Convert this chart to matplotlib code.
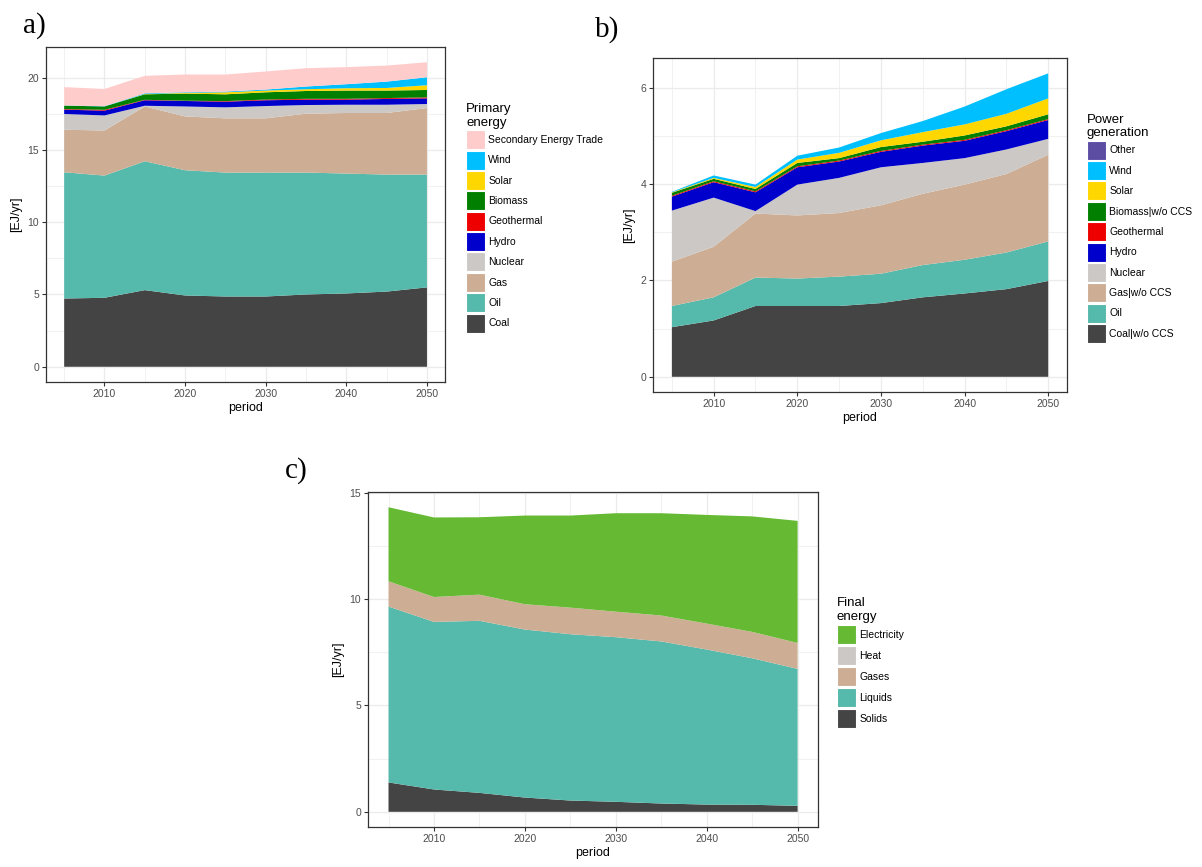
import matplotlib
matplotlib.use('Agg')
import matplotlib.pyplot as plt
import numpy as np
from matplotlib.patches import Patch
from matplotlib.ticker import MultipleLocator, FixedLocator

plt.rcParams['font.family'] = ['Liberation Sans', 'DejaVu Sans']

periods = [2005, 2010, 2015, 2020, 2025, 2030, 2035, 2040, 2045, 2050]
xticks = [2010, 2020, 2030, 2040, 2050]

# a) primary energy [EJ/yr], stacked bottom -> top
pe_labels = ['Coal', 'Oil', 'Gas', 'Nuclear', 'Hydro', 'Geothermal',
             'Biomass', 'Solar', 'Wind', 'Secondary Energy Trade']
pe_coal = [4.72, 4.77, 5.30, 4.93, 4.86, 4.86, 5.00, 5.07, 5.20, 5.49]
pe_oil = [8.73, 8.45, 8.91, 8.66, 8.57, 8.57, 8.43, 8.29, 8.09, 7.80]
pe_gas = [2.94, 3.12, 3.79, 3.72, 3.75, 3.75, 4.07, 4.19, 4.26, 4.60]
pe_nuclear = [1.09, 1.04, 0.05, 0.69, 0.76, 0.85, 0.60, 0.57, 0.57, 0.28]
pe_hydro = [0.30, 0.33, 0.38, 0.38, 0.39, 0.40, 0.37, 0.35, 0.40, 0.39]
pe_geo = [0.04, 0.06, 0.03, 0.02, 0.04, 0.05, 0.06, 0.06, 0.06, 0.07]
pe_biomass = [0.24, 0.23, 0.38, 0.49, 0.47, 0.50, 0.54, 0.57, 0.52, 0.51]
pe_solar = [0.00, 0.00, 0.02, 0.05, 0.14, 0.12, 0.12, 0.16, 0.18, 0.33]
pe_wind = [0.01, 0.02, 0.05, 0.04, 0.05, 0.07, 0.19, 0.28, 0.44, 0.55]
pe_trade = [1.27, 1.19, 1.21, 1.23, 1.18, 1.25, 1.27, 1.18, 1.11, 1.04]

# b) power generation [EJ/yr]
pg_labels = ['Coal|w/o CCS', 'Oil', 'Gas|w/o CCS', 'Nuclear', 'Hydro',
             'Geothermal', 'Biomass|w/o CCS', 'Solar', 'Wind', 'Other']
pg_coal = [1.03, 1.17, 1.47, 1.47, 1.47, 1.53, 1.65, 1.73, 1.82, 1.99]
pg_oil = [0.44, 0.48, 0.59, 0.57, 0.61, 0.61, 0.67, 0.70, 0.76, 0.82]
pg_gas = [0.92, 1.05, 1.33, 1.31, 1.32, 1.42, 1.48, 1.56, 1.63, 1.80]
pg_nuclear = [1.06, 1.02, 0.05, 0.64, 0.73, 0.79, 0.64, 0.55, 0.51, 0.33]
pg_hydro = [0.29, 0.32, 0.39, 0.36, 0.34, 0.32, 0.36, 0.36, 0.38, 0.39]
pg_geo = [0.02, 0.02, 0.02, 0.02, 0.02, 0.02, 0.02, 0.02, 0.02, 0.02]
pg_biomass = [0.06, 0.05, 0.05, 0.07, 0.05, 0.08, 0.06, 0.09, 0.08, 0.10]
pg_solar = [0.01, 0.02, 0.04, 0.07, 0.11, 0.14, 0.20, 0.23, 0.26, 0.33]
pg_wind = [0.01, 0.05, 0.05, 0.08, 0.11, 0.15, 0.23, 0.37, 0.51, 0.52]
pg_other = [0.00, 0.00, 0.00, 0.00, 0.00, 0.00, 0.00, 0.00, 0.00, 0.00]

# c) final energy [EJ/yr]
fe_labels = ['Solids', 'Liquids', 'Gases', 'Heat', 'Electricity']
fe_solids = [1.38, 1.05, 0.89, 0.67, 0.53, 0.47, 0.39, 0.34, 0.33, 0.28]
fe_liquids = [8.27, 7.88, 8.09, 7.90, 7.82, 7.74, 7.62, 7.29, 6.89, 6.44]
fe_gases = [1.19, 1.17, 1.23, 1.19, 1.25, 1.20, 1.22, 1.22, 1.24, 1.22]
fe_heat = [0.00, 0.00, 0.00, 0.00, 0.00, 0.00, 0.00, 0.00, 0.00, 0.00]
fe_elec = [3.48, 3.74, 3.64, 4.17, 4.33, 4.63, 4.81, 5.11, 5.43, 5.74]

COAL = '#444444'
OIL = '#55B9AB'
GAS = '#CDAE94'
NUC = '#CCC8C6'
HYDRO = '#0000CC'
GEO = '#EE0000'
BIO = '#007F00'
SOLAR = '#FFD700'
WIND = '#00BFFF'
TRADE = '#FFCCCC'
OTHER = '#5C4DA3'
ELEC = '#66BA33'

fig = plt.figure(figsize=(12.02, 8.67), dpi=100)


def panel(rect, series, labels, colors, ystep, title, leg_xy, spacing=0.13):
    ax = fig.add_axes(rect)
    ax.stackplot(periods, *series, colors=colors, lw=0)
    total = np.sum(series, axis=0).max()
    ax.set_xlim(2005 - 2.25, 2050 + 2.25)
    ax.set_ylim(-0.05 * total, 1.05 * total)
    ax.set_xticks(xticks)
    ax.xaxis.set_minor_locator(FixedLocator([2005, 2015, 2025, 2035, 2045]))
    ax.yaxis.set_major_locator(MultipleLocator(ystep))
    ax.yaxis.set_minor_locator(MultipleLocator(ystep / 2))
    ax.set_axisbelow(True)
    ax.grid(which='major', color='#EBEBEB', lw=0.9)
    ax.grid(which='minor', color='#EBEBEB', lw=0.5)
    for s in ax.spines.values():
        s.set_color('#333333')
        s.set_linewidth(0.9)
    ax.tick_params(which='major', length=3, width=0.8, color='#333333',
                   labelcolor='#4D4D4D', labelsize=7.5, pad=2)
    ax.tick_params(which='minor', length=0)
    ax.set_xlabel('period', fontsize=9, labelpad=2)
    ax.set_ylabel('[EJ/yr]', fontsize=9, labelpad=4)
    handles = [Patch(facecolor=c, edgecolor='white', lw=0.8) for c in colors][::-1]
    fig.legend(handles, labels[::-1], title=title, loc='upper left',
               bbox_to_anchor=leg_xy, bbox_transform=fig.transFigure,
               frameon=False, fontsize=7.5, title_fontsize=9.5,
               handlelength=1.85, handleheight=2.43, labelspacing=spacing,
               handletextpad=0.3, borderpad=0, borderaxespad=0,
               alignment='left')
    return ax


panel([0.0383, 0.5594, 0.332, 0.3864],
      [pe_coal, pe_oil, pe_gas, pe_nuclear, pe_hydro, pe_geo, pe_biomass,
       pe_solar, pe_wind, pe_trade],
      pe_labels,
      [COAL, OIL, GAS, NUC, HYDRO, GEO, BIO, SOLAR, WIND, TRADE],
      5, 'Primary\nenergy', (0.3877, 0.881))

panel([0.5433, 0.5479, 0.3444, 0.385],
      [pg_coal, pg_oil, pg_gas, pg_nuclear, pg_hydro, pg_geo, pg_biomass,
       pg_solar, pg_wind, pg_other],
      pg_labels,
      [COAL, OIL, GAS, NUC, HYDRO, GEO, BIO, SOLAR, WIND, OTHER],
      2, 'Power\ngeneration', (0.9043, 0.869))

panel([0.3062, 0.0461, 0.3744, 0.3864],
      [fe_solids, fe_liquids, fe_gases, fe_heat, fe_elec],
      fe_labels,
      [COAL, OIL, GAS, NUC, ELEC],
      5, 'Final\nenergy', (0.6963, 0.3114), spacing=0.2)

for tag, x, y in [('a)', 0.019, 0.986), ('b)', 0.495, 0.981), ('c)', 0.237, 0.473)]:
    fig.text(x, y, tag, family='Liberation Serif', fontsize=21, va='top', ha='left')

fig.savefig('out.png', dpi=100)
